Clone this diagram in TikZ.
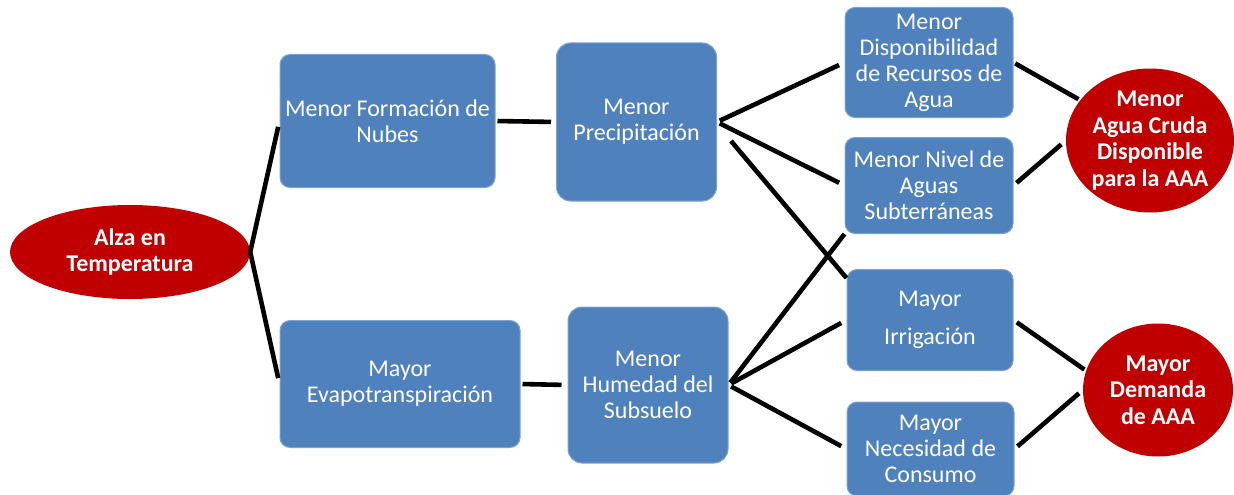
\documentclass[tikz,border=0pt]{standalone}
\usepackage{fontspec}
\setmainfont{Carlito}
\usetikzlibrary{shapes.geometric,calc}
\definecolor{boxblue}{HTML}{4F81BD}
\definecolor{boxedge}{HTML}{7EA3D2}
\definecolor{ovalred}{HTML}{C00000}
\begin{document}
\begin{tikzpicture}[x=1pt,y=-1pt,
  bluebox/.style={draw=boxedge,line width=1pt,fill=boxblue,rounded corners=10pt,text=white,
    align=center,inner sep=0pt,font=\fontsize{24}{26}\selectfont},
  redoval/.style={ellipse,fill=ovalred,text=white,align=center,inner sep=0pt,
    font=\bfseries\fontsize{24}{26.5}\selectfont},
  link/.style={line width=4.6pt,black}]
\useasboundingbox (0,0) rectangle (1234,495);
% nodes
\node[redoval,minimum width=240pt,minimum height=94pt] (alza) at (130,252) {Alza en\\Temperatura};
\node[bluebox,minimum width=215pt,minimum height=133pt] (nubes) at (387.5,121) {Menor Formación de\\Nubes};
\node[bluebox,minimum width=240pt,minimum height=127pt] (evap) at (400,384) {Mayor\\Evapotranspiración};
\node[bluebox,minimum width=160pt,minimum height=158pt,rounded corners=14pt] (prec) at (636.5,122) {Menor\\Precipitación};
\node[bluebox,minimum width=160pt,minimum height=156pt,rounded corners=14pt] (hum) at (648,385) {Menor\\Humedad del\\Subsuelo};
\node[bluebox,minimum width=168pt,minimum height=110pt] (disp) at (929,62.5) {Menor\\Disponibilidad\\de Recursos de\\Agua};
\node[bluebox,minimum width=168pt,minimum height=96pt] (sub) at (929,185.5) {Menor Nivel de\\Aguas\\Subterráneas};
\node[bluebox,minimum width=166pt,minimum height=101pt,font=\fontsize{24}{38}\selectfont] (irr) at (930,320) {Mayor\\Irrigación};
\node[bluebox,minimum width=167pt,minimum height=94pt] (cons) at (930.5,449) {Mayor\\Necesidad de\\Consumo};
\node[redoval,minimum width=168pt,minimum height=144pt] (agua) at (1150,140.5) {Menor\\Agua Cruda\\Disponible\\para la AAA};
\node[redoval,minimum width=150pt,minimum height=133pt] (dem) at (1158,390) {Mayor\\Demanda\\de AAA};
% connectors
\coordinate (precB) at ($(prec.east)+(14,19)$);
\draw[link,shorten >=6pt] (alza.east) -- (nubes.west);
\draw[link,shorten >=6pt] (alza.east) -- (evap.west);
\draw[link,shorten <=2pt,shorten >=5pt] (nubes.east) -- (prec.west);
\draw[link,shorten <=2pt,shorten >=6pt] (evap.east) -- (hum.west);
\draw[link,shorten <=3pt,shorten >=6pt] (prec.east) -- (disp.west);
\draw[link,shorten <=3pt,shorten >=6pt] (prec.east) -- (sub.west);
\draw[link] (precB) -- ($(irr.north west)+(0,9)$);
\draw[link,shorten <=3pt] (hum.east) -- (sub.south west);
\draw[link,shorten <=3pt,shorten >=6pt] (hum.east) -- (irr.west);
\draw[link,shorten <=3pt,shorten >=6pt] (hum.east) -- (cons.west);
\draw[link,shorten <=2pt,shorten >=2pt] (disp.east) -- (agua.150);
\draw[link,shorten <=4pt,shorten >=6pt] (sub.east) -- (agua.west);
\draw[link,shorten <=4pt,shorten >=2pt] (irr.east) -- (dem.165);
\draw[link,shorten <=4pt,shorten >=5pt] (cons.east) -- (dem.west);
\end{tikzpicture}
\end{document}
